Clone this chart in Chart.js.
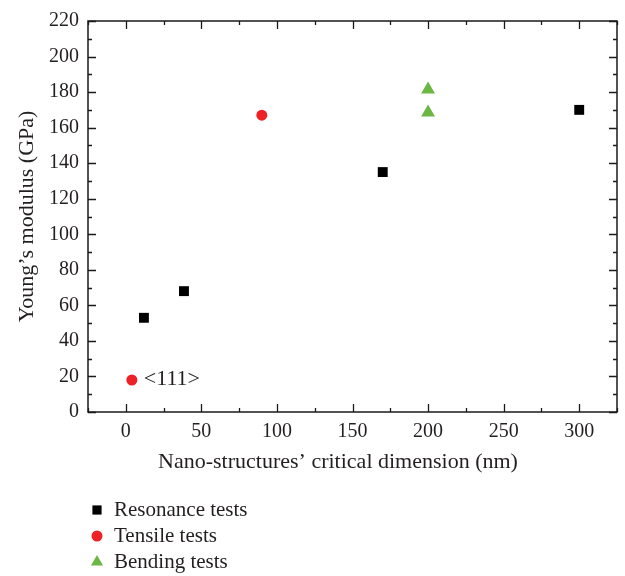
<!DOCTYPE html>
<html>
<head>
<meta charset="utf-8">
<script src="https://cdn.jsdelivr.net/npm/chart.js@4.4.1/dist/chart.umd.min.js"></script>
<style>
  html, body { margin: 0; padding: 0; background: #fff; }
  #wrap { width: 625px; height: 576px; position: relative; }
</style>
</head>
<body>
<div id="wrap"><canvas id="modulusChart"></canvas></div>
<script>
  // Data
  const resonanceX = [12, 38.5, 170, 300];
  const resonanceY = [53, 68, 135, 170];
  const tensileX = [4, 90];
  const tensileY = [18, 167];
  const bendingX = [200, 200];
  const bendingY = [181.5, 168.5];

  const xTickValues = [0, 50, 100, 150, 200, 250, 300];
  const yTickValues = [0, 20, 40, 60, 80, 100, 120, 140, 160, 180, 200, 220];
  const xMinorStep = 25;
  const yMinorStep = 10;

  const seriesNames = ['Resonance tests', 'Tensile tests', 'Bending tests'];
  const xTitle = 'Nano-structures\u2019 critical dimension (nm)';
  const yTitle = 'Young\u2019s modulus (GPa)';
  const noteText = '<111>';

  const textColor = '#231f20';
  const fontFamily = "'Liberation Serif', 'Times New Roman', serif";

  function toPoints(xs, ys) {
    return xs.map(function(x, i) { return { x: x, y: ys[i] }; });
  }

  // frame + inward ticks on all four sides, x title, note
  const framePlugin = {
    id: 'frame',
    afterDatasetsDraw: function(chart) {
      const ctx = chart.ctx;
      const a = chart.chartArea;
      const xs = chart.scales.x;
      const ys = chart.scales.y;
      ctx.save();
      ctx.strokeStyle = '#1a1a1a';
      ctx.lineWidth = 1.5;
      ctx.strokeRect(a.left, a.top, a.right - a.left, a.bottom - a.top);
      ctx.lineWidth = 1.3;
      ctx.beginPath();
      for (let v = Math.ceil(xs.min / xMinorStep) * xMinorStep; v <= xs.max; v += xMinorStep) {
        const px = Math.round(xs.getPixelForValue(v)) + 0.5;
        const len = xTickValues.indexOf(v) >= 0 ? 8 : 4;
        ctx.moveTo(px, a.bottom); ctx.lineTo(px, a.bottom - len);
        ctx.moveTo(px, a.top); ctx.lineTo(px, a.top + len);
      }
      for (let v = Math.ceil(ys.min / yMinorStep) * yMinorStep; v <= ys.max; v += yMinorStep) {
        const py = Math.round(ys.getPixelForValue(v)) + 0.5;
        const len = yTickValues.indexOf(v) >= 0 ? 8 : 4;
        ctx.moveTo(a.left, py); ctx.lineTo(a.left + len, py);
        ctx.moveTo(a.right, py); ctx.lineTo(a.right - len, py);
      }
      ctx.stroke();

      ctx.fillStyle = textColor;
      ctx.textBaseline = 'middle';

      // x axis title (sits a bit left of the plot centre in the original)
      ctx.font = '22px ' + fontFamily;
      ctx.textAlign = 'center';
      ctx.fillText(xTitle, 338, 462);

      // label next to the small tensile point
      const pt = chart.getDatasetMeta(1).data[0];
      ctx.textAlign = 'left';
      ctx.fillText(noteText, pt.x + 12, pt.y - 1);
      ctx.restore();
    }
  };

  // vertical legend under the axis title
  const legendPlugin = {
    id: 'stackLegend',
    afterDraw: function(chart) {
      const ctx = chart.ctx;
      const rows = [510, 536, 562];
      const radii = [6.5, 5.5, 7];
      ctx.save();
      chart.data.datasets.forEach(function(ds, i) {
        ctx.fillStyle = ds.backgroundColor;
        Chart.helpers.drawPoint(ctx, {
          pointStyle: ds.pointStyle, radius: radii[i], rotation: 0, borderWidth: 0
        }, 97, rows[i]);
        ctx.fillStyle = textColor;
        ctx.font = '21px ' + fontFamily;
        ctx.textBaseline = 'middle';
        ctx.textAlign = 'left';
        ctx.fillText(ds.label, 114, rows[i]);
      });
      ctx.restore();
    }
  };

  new Chart(document.getElementById('modulusChart'), {
    type: 'scatter',
    data: {
      datasets: [
        {
          label: seriesNames[0],
          data: toPoints(resonanceX, resonanceY),
          pointStyle: 'rect',
          pointRadius: 7,
          backgroundColor: '#000000',
          borderWidth: 0
        },
        {
          label: seriesNames[1],
          data: toPoints(tensileX, tensileY),
          pointStyle: 'circle',
          pointRadius: 5.5,
          backgroundColor: '#ec2227',
          borderWidth: 0
        },
        {
          label: seriesNames[2],
          data: toPoints(bendingX, bendingY),
          pointStyle: 'triangle',
          pointRadius: 8,
          backgroundColor: '#6cb744',
          borderWidth: 0
        }
      ]
    },
    options: {
      responsive: true,
      maintainAspectRatio: false,
      animation: false,
      layout: { padding: { left: 0, top: 18, right: 7, bottom: 94 } },
      plugins: {
        legend: { display: false },
        tooltip: { enabled: false }
      },
      scales: {
        x: {
          type: 'linear',
          min: -25,
          max: 325,
          afterBuildTicks: function(scale) {
            scale.ticks = xTickValues.map(function(v) { return { value: v }; });
          },
          afterFit: function(scale) { scale.height = 70; },
          grid: { display: false, drawTicks: false },
          border: { display: false },
          ticks: {
            color: textColor,
            padding: 8,
            maxRotation: 0,
            font: { family: fontFamily, size: 20 }
          },
          title: { display: false }
        },
        y: {
          type: 'linear',
          min: 0,
          max: 220,
          afterBuildTicks: function(scale) {
            scale.ticks = yTickValues.map(function(v) { return { value: v }; });
          },
          afterFit: function(scale) { scale.width = 88; },
          grid: { display: false, drawTicks: false },
          border: { display: false },
          ticks: {
            color: textColor,
            padding: 9,
            font: { family: fontFamily, size: 20 }
          },
          title: {
            display: true,
            text: yTitle,
            color: textColor,
            padding: { top: 14, bottom: 0 },
            font: { family: fontFamily, size: 22 }
          }
        }
      }
    },
    plugins: [framePlugin, legendPlugin]
  });
</script>
</body>
</html>
